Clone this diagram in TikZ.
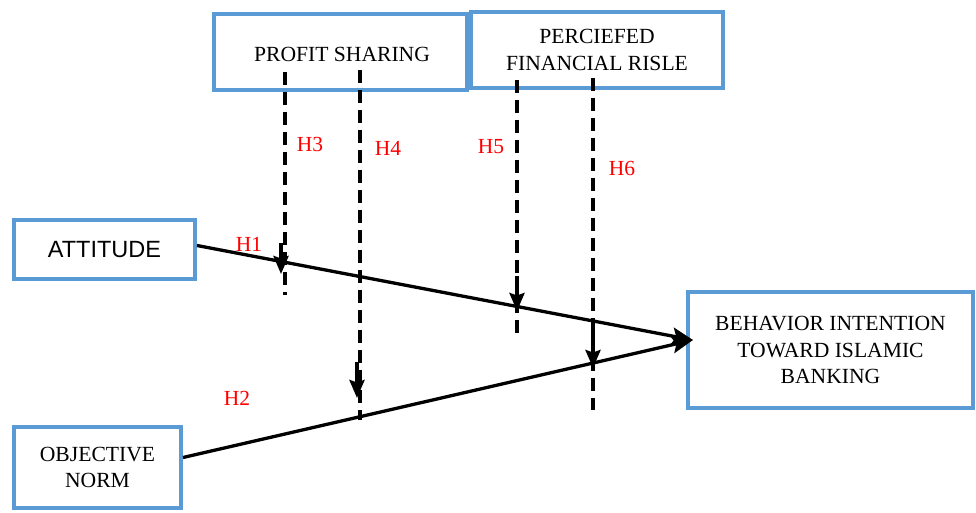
\documentclass[tikz,border=0pt]{standalone}
\usepackage{fontspec}
\setmainfont{Liberation Serif}
\newfontfamily\arialfont{Liberation Sans}
\usetikzlibrary{arrows.meta}
\definecolor{boxblue}{RGB}{91,155,213}
\begin{document}
\begin{tikzpicture}[x=1pt,y=-1pt,
  varbox/.style={draw=boxblue, line width=4pt, inner sep=0pt, align=center,
    font=\fontsize{21.6}{26.5}\selectfont, fill=white},
  conn/.style={line width=3.3pt, arrows={-Stealth[length=21pt,width=17pt,inset=4pt]}},
  modarrow/.style={line width=3.6pt, arrows={-Stealth[length=18pt,width=15pt,inset=2.5pt]}},
  modline/.style={line width=3.3pt, dash pattern=on 13pt off 7pt},
  hlabel/.style={text=red, font=\fontsize{21.5}{24}\selectfont, inner sep=0pt}]
\useasboundingbox (0,0) rectangle (976,513);
% boxes
\node[varbox, minimum width=253pt, minimum height=76pt] (profit) at (340.5,52) {};
\node[font=\fontsize{21.6}{26.5}\selectfont] (profittext) at (342,54) {PROFIT SHARING};
\node[varbox, minimum width=252pt, minimum height=76pt] (risk) at (597,50) {PERCIEFED\\FINANCIAL RISLE};
\node[varbox, minimum width=181pt, minimum height=59pt, font=\arialfont\fontsize{23.5}{26}\selectfont] (attitude) at (104.5,249.5) {ATTITUDE};
\node[varbox, minimum width=167pt, minimum height=81pt] (norm) at (97.5,467.5) {OBJECTIVE\\NORM};
\node[varbox, minimum width=285pt, minimum height=116pt] (behavior) at (830.5,350) {BEHAVIOR INTENTION\\TOWARD ISLAMIC\\BANKING};
% dashed moderator lines
\coordinate (d3a) at (285,72);  \coordinate (d3b) at (285,295);
\coordinate (d4a) at (360,70);  \coordinate (d4b) at (360,420);
\coordinate (d5a) at (517,80);  \coordinate (d5b) at (517,340);
\coordinate (d6a) at (593,78);  \coordinate (d6b) at (593,410);
\draw[modline] (d3a) -- (d3b);
\draw[modline] (d4a) -- (d4b);
\draw[modline] (d5a) -- (d5b);
\draw[modline] (d6a) -- (d6b);
% main paths
\coordinate (tip) at (693,340);
\draw[conn] ([yshift=4pt]attitude.east) -- (tip);
\draw[conn] ([yshift=10pt]norm.east) -- (tip);
% moderating arrows
\coordinate (m3a) at (281,243); \coordinate (m3b) at (281,274);
\coordinate (m4a) at (357,362); \coordinate (m4b) at (357,398);
\coordinate (m5a) at (517,276); \coordinate (m5b) at (517,311);
\coordinate (m6a) at (593,321); \coordinate (m6b) at (593,368);
\draw[modarrow] (m3a) -- (m3b);
\draw[modarrow] (m4a) -- (m4b);
\draw[modarrow] (m5a) -- (m5b);
\draw[modarrow] (m6a) -- (m6b);
% labels
\node[hlabel] (h1) at (249,244) {H1};
\node[hlabel] (h2) at (237,398) {H2};
\node[hlabel] (h3) at (310,144) {H3};
\node[hlabel] (h4) at (388,148) {H4};
\node[hlabel] (h5) at (491,147) {H5};
\node[hlabel] (h6) at (622,168) {H6};
\end{tikzpicture}
\end{document}
